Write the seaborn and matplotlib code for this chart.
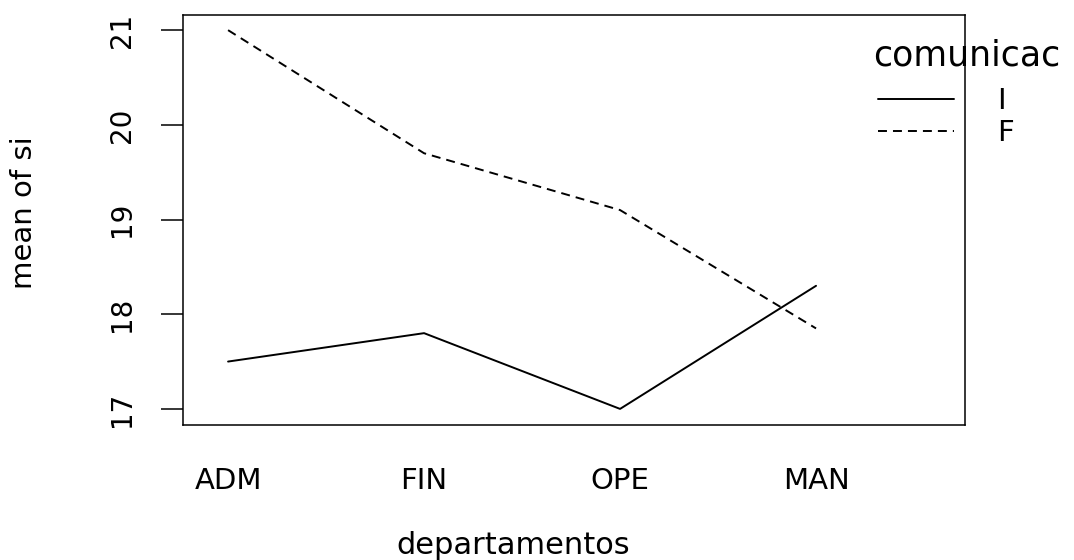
import matplotlib
matplotlib.use('Agg')
import matplotlib.pyplot as plt
import numpy as np
import pandas as pd
import seaborn as sns

# datos (interaction plot)
departamentos = ['ADM', 'FIN', 'OPE', 'MAN']
si_I = [17.5, 17.8, 17.0, 18.3]
si_F = [21.0, 19.7, 19.1, 17.85]
niveles = ['I', 'F']
y_ticks = [17, 18, 19, 20, 21]

df = pd.DataFrame({
    'departamentos': departamentos * 2,
    'si': si_I + si_F,
    'comunicacion': ['I'] * len(si_I) + ['F'] * len(si_F),
})

sns.set_style('white')
plt.rcParams['font.family'] = ['DejaVu Sans']
plt.rcParams['text.color'] = 'black'
plt.rcParams['axes.labelcolor'] = 'black'
plt.rcParams['xtick.color'] = 'black'
plt.rcParams['ytick.color'] = 'black'

fig = plt.figure(figsize=(10.74, 5.6), dpi=100)
ax = fig.add_axes([183 / 1074, (560 - 425) / 560, 782 / 1074, 410 / 560])

sns.lineplot(data=df, x='departamentos', y='si', style='comunicacion',
             style_order=niveles, dashes={'I': '', 'F': (4.6, 3.1)},
             color='black', linewidth=1.4, sort=False, ax=ax)

ax.set_xlim(-0.23, 3.76)
ax.set_ylim(16.83, 21.16)

for s in ax.spines.values():
    s.set_color('black')
    s.set_linewidth(1.1)

ax.set_yticks(y_ticks)
ax.set_yticklabels([str(v) for v in y_ticks])
ax.tick_params(axis='y', left=True, length=16, width=1.1, color='black',
               labelrotation=90, labelsize=20, pad=18, labelcolor='black')
for t in ax.get_yticklabels():
    t.set_va('center')
ax.tick_params(axis='x', bottom=False, length=0, labelsize=21, pad=30,
               labelcolor='black')

ax.set_xlabel('departamentos', fontsize=22, color='black')
ax.xaxis.set_label_coords((513 - 183) / 782, (425 - 545) / 410)
ax.xaxis.label.set_va('center')
ax.set_ylabel('mean of si', fontsize=21, color='black')
ax.yaxis.set_label_coords((24 - 183) / 782, (425 - 213) / 410)
ax.yaxis.label.set_va('center')

handles, labels = ax.get_legend_handles_labels()
ax.legend(handles, labels, frameon=False,
          loc='upper left', bbox_to_anchor=(878 / 1074, 1 - 87 / 560),
          bbox_transform=fig.transFigure, fontsize=21, handlelength=2.6,
          handletextpad=1.5, labelspacing=0.14, borderpad=0,
          borderaxespad=0, labelcolor='black')
# titulo de la leyenda, tal como se ve en el original (cortado en el borde)
fig.text(873 / 1074, 1 - 55 / 560, 'comunicac', fontsize=25,
         va='center', ha='left', color='black')

fig.savefig('out.png', dpi=100)
